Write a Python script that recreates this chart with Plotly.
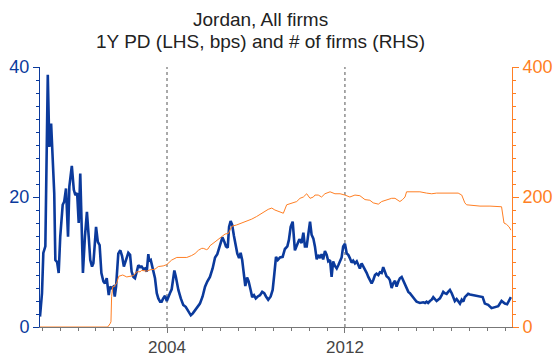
import plotly.graph_objects as go

# 1-year probability of default (bps), sampled as decimal years
pd_years = [
    1998.29, 1998.38, 1998.44, 1998.53, 1998.64, 1998.71, 1998.79, 1998.83, 1998.93, 1998.98,
    1999.06, 1999.13, 1999.20, 1999.31, 1999.38, 1999.46, 1999.55, 1999.61, 1999.72, 1999.81,
    1999.88, 1999.96, 2000.03, 2000.10, 2000.17, 2000.22, 2000.31, 2000.40, 2000.48, 2000.55,
    2000.63, 2000.69, 2000.81, 2000.89, 2000.97, 2001.05, 2001.14, 2001.21, 2001.29, 2001.38,
    2001.44, 2001.51, 2001.59, 2001.65, 2001.71, 2001.81, 2001.90, 2001.98, 2002.06, 2002.16,
    2002.26, 2002.34, 2002.41, 2002.49, 2002.56, 2002.64, 2002.71, 2002.79, 2002.86, 2002.94,
    2003.01, 2003.09, 2003.16, 2003.20, 2003.27, 2003.33, 2003.38, 2003.46, 2003.54, 2003.61,
    2003.69, 2003.76, 2003.83, 2003.91, 2003.99, 2004.06, 2004.13, 2004.21, 2004.28, 2004.33,
    2004.40, 2004.51, 2004.62, 2004.73, 2004.84, 2004.96, 2005.07, 2005.16, 2005.26, 2005.36,
    2005.48, 2005.60, 2005.71, 2005.81, 2005.93, 2006.05, 2006.16, 2006.26, 2006.38, 2006.49,
    2006.58, 2006.65, 2006.73, 2006.79, 2006.86, 2006.93, 2007.01, 2007.09, 2007.16, 2007.24,
    2007.31, 2007.38, 2007.46, 2007.52, 2007.60, 2007.67, 2007.76, 2007.83, 2007.91, 2007.99,
    2008.08, 2008.18, 2008.28, 2008.37, 2008.45, 2008.55, 2008.66, 2008.75, 2008.82, 2008.90,
    2008.98, 2009.08, 2009.20, 2009.30, 2009.41, 2009.48, 2009.56, 2009.65, 2009.75, 2009.86,
    2009.95, 2010.05, 2010.13, 2010.20, 2010.28, 2010.35, 2010.43, 2010.50, 2010.58, 2010.65,
    2010.73, 2010.80, 2010.88, 2010.95, 2011.02, 2011.10, 2011.18, 2011.25, 2011.33, 2011.40,
    2011.47, 2011.55, 2011.63, 2011.70, 2011.78, 2011.85, 2011.92, 2012.00, 2012.08, 2012.15,
    2012.22, 2012.30, 2012.37, 2012.45, 2012.53, 2012.60, 2012.67, 2012.75, 2012.82, 2012.90,
    2012.98, 2013.05, 2013.12, 2013.20, 2013.27, 2013.35, 2013.42, 2013.50, 2013.57, 2013.65,
    2013.72, 2013.80, 2013.87, 2013.95, 2014.02, 2014.10, 2014.17, 2014.25, 2014.32, 2014.40,
    2014.47, 2014.55, 2014.62, 2014.70, 2014.77, 2014.85, 2014.92, 2015.00, 2015.07, 2015.15,
    2015.22, 2015.37, 2015.52, 2015.60, 2015.67, 2015.74, 2015.82, 2015.90, 2015.97, 2016.05,
    2016.12, 2016.19, 2016.27, 2016.35, 2016.42, 2016.49, 2016.57, 2016.64, 2016.72, 2016.80,
    2016.87, 2016.94, 2017.02, 2017.09, 2017.17, 2017.25, 2017.32, 2017.39, 2017.47, 2017.54,
    2017.62, 2017.77, 2017.92, 2018.07, 2018.19, 2018.29, 2018.44, 2018.59, 2018.74, 2018.89,
    2019.04, 2019.19, 2019.29, 2019.38, 2019.46,
]
pd_bps = [
    1.6, 5.2, 11.4, 12.4, 38.8, 27.7, 31.3, 28.3, 20.6, 10.3,
    10.0, 8.3, 13.9, 18.8, 19.3, 21.3, 13.9, 21.6, 24.8, 21.1,
    20.3, 20.6, 16.0, 23.6, 15.4, 8.3, 13.9, 17.7, 13.9, 10.3,
    9.3, 9.8, 15.4, 13.1, 12.6, 8.3, 7.0, 6.7, 7.5, 4.9,
    6.2, 6.0, 6.2, 4.7, 6.2, 11.3, 11.8, 10.9, 9.3, 10.3,
    11.4, 11.1, 8.5, 7.7, 7.5, 8.5, 9.5, 9.2, 9.3, 8.9,
    9.0, 8.5, 11.2, 10.1, 10.3, 9.4, 8.8, 7.5, 5.2, 4.4,
    3.9, 3.9, 4.4, 4.8, 4.0, 4.7, 5.2, 5.8, 7.7, 8.7,
    7.7, 5.7, 4.4, 3.4, 3.1, 2.4, 1.8, 2.1, 2.6, 3.1,
    3.6, 4.7, 6.2, 7.0, 7.7, 9.0, 10.7, 11.2, 12.5, 13.8,
    13.1, 12.4, 12.2, 15.4, 16.3, 15.7, 14.0, 12.4, 11.3, 10.6,
    11.4, 10.3, 7.7, 6.3, 7.6, 7.0, 5.7, 4.6, 4.9, 4.4,
    4.7, 4.9, 5.4, 5.2, 4.7, 4.2, 4.7, 5.7, 8.0, 10.8,
    10.3, 10.7, 10.8, 12.0, 12.4, 13.4, 15.4, 16.2, 11.8, 12.6,
    13.5, 12.9, 14.5, 12.4, 12.4, 14.2, 16.2, 14.2, 13.6, 12.4,
    10.4, 11.1, 10.6, 11.2, 10.4, 11.7, 11.1, 10.1, 10.3, 7.7,
    10.1, 9.4, 9.0, 9.5, 10.1, 10.7, 12.4, 12.8, 11.3, 11.1,
    10.6, 9.9, 10.2, 9.8, 10.1, 9.5, 9.0, 9.8, 9.4, 8.9,
    8.3, 7.7, 7.2, 6.7, 7.2, 8.0, 8.2, 8.0, 8.4, 8.3,
    9.2, 8.5, 7.8, 7.6, 7.2, 6.0, 6.7, 7.1, 6.2, 7.0,
    7.5, 7.7, 7.2, 6.7, 6.0, 5.4, 5.2, 4.9, 4.6, 4.2,
    3.9, 3.7, 3.8, 3.7, 3.9, 3.7, 4.0, 4.2, 4.6, 4.2,
    4.0, 4.2, 4.4, 4.9, 5.4, 5.2, 5.1, 5.4, 5.7, 5.2,
    4.4, 4.0, 4.3, 3.9, 3.6, 4.2, 3.9, 4.6, 4.9, 5.1,
    5.0, 4.9, 4.7, 4.6, 4.6, 3.6, 3.4, 2.9, 3.1, 3.2,
    4.0, 3.6, 3.5, 4.0, 4.6,
]

# Number of firms covered
firm_years = [
    1998.29, 2001.33, 2001.44, 2001.48, 2001.51, 2001.56, 2001.63, 2001.74, 2001.83, 2002.01,
    2002.19, 2002.41, 2002.49, 2002.64, 2002.79, 2002.86, 2003.09, 2003.24, 2003.38, 2003.46,
    2003.61, 2003.83, 2003.99, 2004.21, 2004.44, 2004.66, 2004.89, 2005.11, 2005.26, 2005.41,
    2005.56, 2005.63, 2005.78, 2005.84, 2005.93, 2006.16, 2006.38, 2006.61, 2006.76, 2006.91,
    2007.13, 2007.36, 2007.58, 2007.81, 2008.03, 2008.26, 2008.40, 2008.55, 2008.71, 2008.85,
    2009.08, 2009.23, 2009.38, 2009.60, 2009.83, 2009.98, 2010.13, 2010.28, 2010.43, 2010.58,
    2010.65, 2010.80, 2010.88, 2010.95, 2011.10, 2011.18, 2011.33, 2011.55, 2011.78, 2012.00,
    2012.22, 2012.45, 2012.67, 2012.90, 2013.12, 2013.27, 2013.50, 2013.65, 2013.87, 2014.10,
    2014.25, 2014.47, 2014.59, 2014.70, 2014.77, 2015.07, 2015.37, 2015.67, 2015.90, 2016.12,
    2016.42, 2016.72, 2017.09, 2017.25, 2017.39, 2017.47, 2017.77, 2018.07, 2018.52, 2019.04,
    2019.15, 2019.26, 2019.38, 2019.46,
]
firm_counts = [
    0, 0, 5, 8, 47, 62, 62, 68, 78, 80,
    77, 78, 79, 85, 85, 87, 86, 88, 88, 89,
    93, 94, 96, 103, 107, 107, 107, 110, 113, 118,
    121, 121, 119, 120, 125, 131, 137, 143, 144, 155,
    157, 160, 162, 166, 170, 175, 177, 181, 183, 180,
    177, 175, 188, 190, 193, 198, 200, 205, 198, 200,
    203, 203, 202, 200, 205, 206, 208, 205, 205, 203,
    200, 203, 202, 196, 195, 191, 189, 193, 196, 198,
    198, 193, 196, 200, 208, 208, 208, 206, 205, 206,
    206, 206, 206, 203, 191, 188, 187, 186, 186, 185,
    160, 158, 154, 149,
]

# Reference years marked with dotted verticals and labelled on the axis
marked_years = [2004, 2012]

BLUE = "#0b3a9c"
ORANGE = "#ff7f24"
FONT = "Liberation Sans, Arial, sans-serif"

fig = go.Figure()
fig.add_trace(go.Scatter(
    x=pd_years, y=pd_bps, mode="lines", yaxis="y",
    line=dict(color=BLUE, width=2.6), hoverinfo="skip", showlegend=False,
))
fig.add_trace(go.Scatter(
    x=firm_years, y=firm_counts, mode="lines", yaxis="y2",
    line=dict(color=ORANGE, width=1), hoverinfo="skip", showlegend=False,
))

for yr in marked_years:
    fig.add_shape(type="line", xref="x", yref="paper", x0=yr, x1=yr, y0=0, y1=1,
                  line=dict(color="#555555", width=1, dash="3px,3px"), layer="below")

fig.update_layout(
    width=554, height=356,
    margin=dict(l=40, r=42, t=67, b=29, autoexpand=False),
    paper_bgcolor="white", plot_bgcolor="white",
    font=dict(family=FONT, size=18, color="#333333"),
    xaxis=dict(
        range=[1998.29, 2019.51], showgrid=False, zeroline=False, automargin=False,
        showline=True, linecolor="#777777", linewidth=1,
        tickmode="array", tickvals=marked_years, ticktext=[str(v) for v in marked_years],
        ticks="outside", ticklen=5, tickcolor="#777777",
        tickfont=dict(size=17, color="#444444"),
        minor=dict(tickmode="linear", tick0=2004, dtick=0.8, ticks="outside",
                   ticklen=3, tickcolor="#777777", showgrid=False),
    ),
    yaxis=dict(
        range=[0, 40], showgrid=False, zeroline=False, automargin=False,
        showline=True, linecolor=BLUE, linewidth=1,
        tickmode="linear", tick0=0, dtick=20,
        ticks="outside", ticklen=6, tickcolor=BLUE,
        tickfont=dict(size=18, color=BLUE),
        minor=dict(tickmode="linear", tick0=0, dtick=2, ticks="outside",
                   ticklen=3, tickcolor=BLUE, showgrid=False),
    ),
    yaxis2=dict(
        range=[0, 400], overlaying="y", side="right", showgrid=False, zeroline=False,
        automargin=False,
        showline=True, linecolor=ORANGE, linewidth=1,
        tickmode="linear", tick0=0, dtick=200,
        ticks="outside", ticklen=6, tickcolor=ORANGE,
        tickfont=dict(size=18, color=ORANGE),
        minor=dict(tickmode="linear", tick0=0, dtick=20, ticks="outside",
                   ticklen=3, tickcolor=ORANGE, showgrid=False),
    ),
    annotations=[
        dict(text="Jordan, All firms", xref="paper", yref="paper", x=0.468, y=1.0,
             yshift=35, xanchor="center", yanchor="bottom", showarrow=False,
             font=dict(size=19, color="#222222")),
        dict(text="1Y PD (LHS, bps) and # of firms (RHS)", xref="paper", yref="paper",
             x=0.468, y=1.0, yshift=13, xanchor="center", yanchor="bottom", showarrow=False,
             font=dict(size=19, color="#222222")),
    ],
)

fig.write_html("out.html")
